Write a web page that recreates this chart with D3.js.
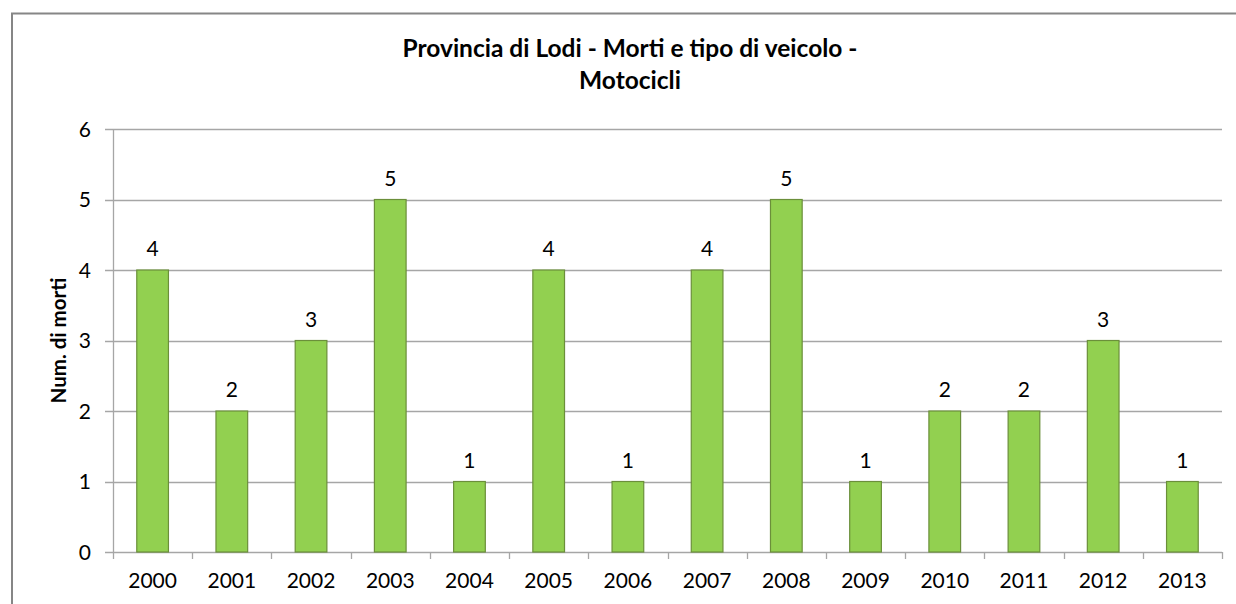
<!DOCTYPE html>
<html>
<head>
<meta charset="utf-8">
<script src="https://cdn.jsdelivr.net/npm/d3@7"></script>
<style>
  html, body { margin: 0; background: #fff; overflow: hidden; }
  svg { display: block; }
  text { font-family: "Lato", "Open Sans", sans-serif; fill: #000; }
</style>
</head>
<body>
<svg id="chart" width="1236" height="604"></svg>
<script>
// chart data
var years = ["2000","2001","2002","2003","2004","2005","2006","2007","2008","2009","2010","2011","2012","2013"];
var deaths = [4, 2, 3, 5, 1, 4, 1, 4, 5, 1, 2, 2, 3, 1];
var yTicks = [0, 1, 2, 3, 4, 5, 6];
var titleLines = ["Provincia di Lodi - Morti e tipo di veicolo -", "Motocicli"];
var yTitle = "Num. di morti";

var svg = d3.select("#chart");
var width = +svg.attr("width");
var height = +svg.attr("height");

// chart area frame: only top and left edges, the rest falls outside the picture
svg.append("path")
  .attr("d", "M12," + height + "V13.5H" + width)
  .attr("fill", "none")
  .attr("stroke", "#868686")
  .attr("stroke-width", 2);

var margin = {left: 113, right: 14, top: 129, bottom: 52};

var x = d3.scaleBand()
  .domain(years)
  .range([margin.left, width - margin.right])
  .paddingInner(0.6)
  .paddingOuter(0.3);

var y = d3.scaleLinear()
  .domain([0, 6])
  .range([height - margin.bottom, margin.top]);

var g = svg.append("g");

// gridlines + left ticks
g.append("g")
  .selectAll("line")
  .data(yTicks)
  .enter().append("line")
  .attr("x1", margin.left - 8)
  .attr("x2", width - margin.right)
  .attr("y1", d => Math.round(y(d)) + 0.5)
  .attr("y2", d => Math.round(y(d)) + 0.5)
  .attr("stroke", "#a6a6a6")
  .attr("stroke-width", 1.3);

// y axis line
g.append("line")
  .attr("x1", margin.left + 0.5).attr("x2", margin.left + 0.5)
  .attr("y1", y(6)).attr("y2", y(0))
  .attr("stroke", "#a6a6a6")
  .attr("stroke-width", 1.3);

// y tick labels
g.append("g")
  .selectAll("text")
  .data(yTicks)
  .enter().append("text")
  .attr("x", 91)
  .attr("y", d => y(d))
  .attr("dy", "0.36em")
  .attr("text-anchor", "end")
  .style("font-size", "21px")
  .text(d => d);

// x category ticks (between categories)
var stepEdges = d3.range(years.length + 1).map(i => margin.left + i * x.step());
g.append("g")
  .selectAll("line")
  .data(stepEdges)
  .enter().append("line")
  .attr("x1", d => Math.round(d) + 0.5)
  .attr("x2", d => Math.round(d) + 0.5)
  .attr("y1", y(0))
  .attr("y2", y(0) + 7)
  .attr("stroke", "#a6a6a6")
  .attr("stroke-width", 1.3);

// x labels
g.append("g")
  .selectAll("text")
  .data(years)
  .enter().append("text")
  .attr("x", d => x(d) + x.bandwidth() / 2)
  .attr("y", y(0) + 36)
  .attr("text-anchor", "middle")
  .style("font-size", "21px")
  .text(d => d);

// bars
g.append("g")
  .selectAll("rect")
  .data(years)
  .enter().append("rect")
  .attr("x", d => x(d))
  .attr("y", (d, i) => y(deaths[i]))
  .attr("width", x.bandwidth())
  .attr("height", (d, i) => y(0) - y(deaths[i]))
  .attr("fill", "#92d050")
  .attr("stroke", "#6b8f3a")
  .attr("stroke-width", 1.2);

// value labels
g.append("g")
  .selectAll("text")
  .data(years)
  .enter().append("text")
  .attr("x", d => x(d) + x.bandwidth() / 2)
  .attr("y", (d, i) => y(deaths[i]) - 14)
  .attr("text-anchor", "middle")
  .style("font-size", "21px")
  .text((d, i) => deaths[i]);

// title
svg.append("text")
  .attr("x", 630)
  .attr("y", 57)
  .attr("text-anchor", "middle")
  .style("font-size", "24.5px")
  .style("font-weight", "bold")
  .selectAll("tspan")
  .data(titleLines)
  .enter().append("tspan")
  .attr("x", 630)
  .attr("dy", (d, i) => i ? 32 : 0)
  .text(d => d);

// y axis title
svg.append("text")
  .attr("transform", "translate(66," + ((y(0) + y(6)) / 2) + ") rotate(-90)")
  .attr("text-anchor", "middle")
  .style("font-size", "20.5px")
  .style("font-weight", "bold")
  .text(yTitle);
</script>
</body>
</html>
